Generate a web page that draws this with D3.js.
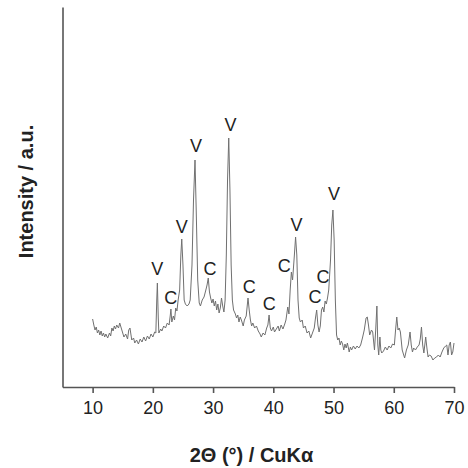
<!DOCTYPE html>
<html>
<head>
<meta charset="utf-8">
<script src="https://cdn.jsdelivr.net/npm/d3@7/dist/d3.min.js"></script>
<style>
  html, body { margin: 0; padding: 0; background: #fff; }
  svg { display: block; }
</style>
</head>
<body>
<svg id="chart" width="468" height="468"></svg>
<script>
// ---- data ----
const theta = [
  10.0,10.2,10.4,10.6,10.8,11.0,11.2,11.4,11.6,11.8,12.0,12.2,12.5,12.8,13.0,13.2,13.4,13.6,13.8,14.0,
  14.3,14.5,14.7,15.0,15.2,15.5,15.8,16.0,16.2,16.5,16.8,17.0,17.3,17.6,17.9,18.2,18.5,18.8,19.1,19.4,
  19.7,20.0,20.3,20.5,20.65,20.75,20.9,21.0,21.3,21.5,21.8,22.1,22.4,22.7,22.9,23.0,23.15,23.4,23.6,23.8,
  24.0,24.2,24.45,24.65,24.8,25.0,25.2,25.4,25.7,26.0,26.2,26.5,26.75,27.0,27.2,27.45,27.7,27.9,28.2,28.5,
  28.8,29.0,29.2,29.4,29.6,29.8,30.0,30.2,30.4,30.6,30.8,31.0,31.2,31.4,31.6,31.8,32.0,32.2,32.4,32.6,
  32.8,33.0,33.2,33.4,33.7,33.9,34.1,34.3,34.5,34.7,35.0,35.2,35.5,35.8,36.0,36.2,36.4,36.6,36.9,37.2,
  37.5,37.8,38.0,38.3,38.6,38.9,39.1,39.3,39.5,39.7,40.0,40.2,40.5,40.8,41.0,41.3,41.6,41.9,42.1,42.4,
  42.6,42.8,43.0,43.2,43.5,43.7,43.9,44.1,44.3,44.5,44.8,45.0,45.3,45.6,45.9,46.2,46.5,46.8,47.0,47.2,
  47.4,47.6,47.8,48.0,48.2,48.4,48.6,48.8,49.0,49.2,49.5,49.7,49.9,50.1,50.3,50.5,50.7,50.9,51.1,51.3,
  51.5,51.7,51.9,52.1,52.3,52.6,52.8,53.0,53.3,53.6,53.9,54.2,54.5,54.8,55.1,55.4,55.6,55.8,56.0,56.3,
  56.5,56.8,57.0,57.2,57.35,57.5,57.7,57.85,58.0,58.3,58.6,58.9,59.2,59.5,59.8,60.1,60.3,60.5,60.7,60.9,
  61.1,61.4,61.8,62.1,62.4,62.7,62.9,63.1,63.3,63.6,63.9,64.2,64.4,64.6,64.8,65.0,65.3,65.5,65.7,65.9,
  66.2,66.5,66.8,67.1,67.4,67.7,68.0,68.3,68.6,68.8,69.0,69.2,69.4,69.6,69.8,70.0
];
const intensity = [
  68,62,57,60,54,57,52,56,51,54,50,53,49,54,51,59,56,61,58,62,
  59,64,60,54,50,53,48,57,59,47,49,44,47,43,48,45,50,46,51,48,
  53,50,55,54,87,104,69,54,58,56,61,59,64,62,72,78,65,71,67,79,
  76,87,97,132,148,122,87,83,81,83,87,122,187,227,177,107,84,81,87,90,
  97,102,109,95,89,84,88,81,86,77,83,74,79,89,81,75,87,132,207,249,
  197,122,87,77,73,69,72,65,70,67,61,67,71,89,77,67,61,64,59,61,
  56,53,50,54,52,59,62,72,59,56,60,55,58,61,56,62,58,63,67,80,
  73,97,115,107,132,150,132,87,69,65,67,59,61,54,56,49,54,59,69,77,
  62,55,61,77,80,75,86,83,89,97,127,162,177,147,87,52,47,49,42,46,
  43,37,43,39,44,35,40,37,41,38,41,39,42,49,57,69,70,62,52,57,
  55,37,57,81,42,32,50,37,34,36,40,37,41,39,43,42,57,70,57,59,
  55,37,29,37,42,55,42,35,39,37,40,42,48,60,42,34,50,39,30,32,
  31,27,29,30,32,30,35,39,41,42,32,42,45,32,35,44
];
const xTicks = [10, 20, 30, 40, 50, 60, 70];
const labelText  = ["V","C","V","V","C","V","C","C","C","V","C","C","V"];
const labelTheta = [20.74,22.96,24.79,27.16,29.48,32.91,35.99,39.31,41.8,43.85,46.93,48.26,50.08];
const labelI     = [112,83,154,235,112,256,94,77,115,156,84,104,187];

// ---- chart ----
const svg = d3.select("#chart");
const font = "'Liberation Sans', Arial, Helvetica, sans-serif";

const x = d3.scaleLinear().domain([5, 70]).range([62.5, 454]);
const y = d3.scaleLinear().domain([0, 380]).range([387, 7]);

const pts = theta.map((t, i) => [t, intensity[i]]);

// trace
svg.append("path")
  .datum(pts)
  .attr("fill", "none")
  .attr("stroke", "#707070")
  .attr("stroke-width", 1)
  .attr("stroke-linejoin", "round")
  .attr("d", d3.line().x(d => x(d[0])).y(d => y(d[1])));

// x axis
const gx = svg.append("g")
  .attr("transform", `translate(0,${y(0)})`)
  .call(d3.axisBottom(x).tickValues(xTicks).tickSize(6).tickSizeOuter(0).tickPadding(8));
gx.select(".domain").attr("stroke", "#555").attr("stroke-width", 1.6);
gx.selectAll(".tick line").attr("stroke", "#555").attr("stroke-width", 1.6);
gx.selectAll(".tick text")
  .attr("font-family", font).attr("font-size", 18).attr("fill", "#222");

// y axis (line only)
const gy = svg.append("g")
  .attr("transform", `translate(${x(5)},0)`)
  .call(d3.axisLeft(y).tickValues([]).tickSizeOuter(0));
gy.select(".domain").attr("stroke", "#555").attr("stroke-width", 1.6);

// peak labels
svg.append("g").selectAll("text")
  .data(labelText)
  .join("text")
  .attr("x", (d, i) => x(labelTheta[i]))
  .attr("y", (d, i) => y(labelI[i]))
  .attr("text-anchor", "middle")
  .attr("font-family", font)
  .attr("font-size", 18)
  .attr("fill", "#222")
  .text(d => d);

// axis titles
svg.append("text")
  .attr("x", 251.5).attr("y", 461.5)
  .attr("text-anchor", "middle")
  .attr("font-family", font).attr("font-size", 20).attr("font-weight", "bold")
  .attr("fill", "#222")
  .text("2Θ (°) / CuKα");

svg.append("text")
  .attr("transform", "translate(33,191.5) rotate(-90)")
  .attr("text-anchor", "middle")
  .attr("font-family", font).attr("font-size", 20).attr("font-weight", "bold")
  .attr("fill", "#222")
  .text("Intensity / a.u.");
</script>
</body>
</html>
